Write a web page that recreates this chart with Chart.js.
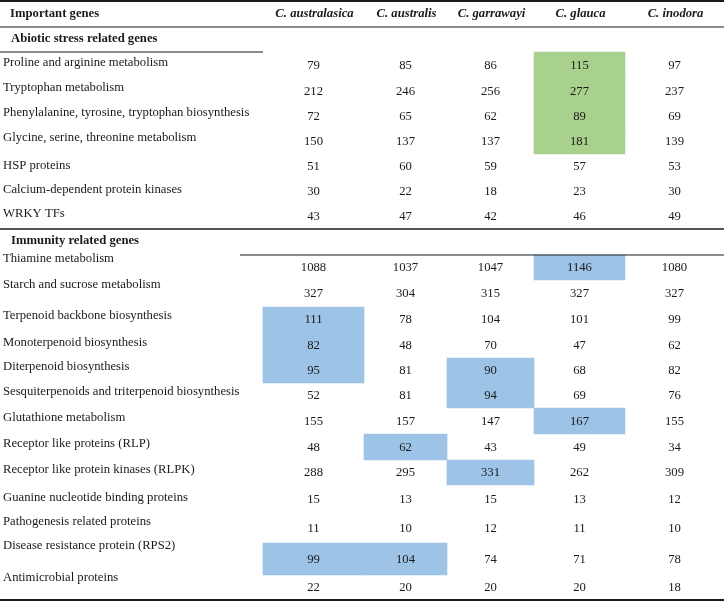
<!DOCTYPE html>
<html><head><meta charset="utf-8">
<script src="https://cdn.jsdelivr.net/npm/chart.js@4.4.1/dist/chart.umd.min.js"></script>
<style>html,body{margin:0;padding:0;background:#fff;}#wrap{width:724px;height:602px;position:relative;}</style>
</head><body><div id="wrap"><canvas id="c" width="724" height="602"></canvas></div>
<script>
// ---------- DATA ----------
const headerTitle = "Important genes";
const species = ["C. australasica", "C. australis", "C. garrawayi", "C. glauca", "C. inodora"];
const sectionTitles = ["Abiotic stress related genes", "Immunity related genes"];
const abioticGenes = [
  "Proline and arginine metabolism",
  "Tryptophan metabolism",
  "Phenylalanine, tyrosine, tryptophan biosynthesis",
  "Glycine, serine, threonine metabolism",
  "HSP proteins",
  "Calcium-dependent protein kinases",
  "WRKY TFs"
];
const immunityGenes = [
  "Thiamine metabolism",
  "Starch and sucrose metabolism",
  "Terpenoid backbone biosynthesis",
  "Monoterpenoid biosynthesis",
  "Diterpenoid biosynthesis",
  "Sesquiterpenoids and triterpenoid biosynthesis",
  "Glutathione metabolism",
  "Receptor like proteins (RLP)",
  "Receptor like protein kinases (RLPK)",
  "Guanine nucleotide binding proteins",
  "Pathogenesis related proteins",
  "Disease resistance protein (RPS2)",
  "Antimicrobial proteins"
];
// values: 7 abiotic genes followed by 13 immunity genes
const australasica = [79, 212, 72, 150, 51, 30, 43, 1088, 327, 111, 82, 95, 52, 155, 48, 288, 15, 11, 99, 22];
const australis    = [85, 246, 65, 137, 60, 22, 47, 1037, 304, 78, 48, 81, 81, 157, 62, 295, 13, 10, 104, 20];
const garrawayi    = [86, 256, 62, 137, 59, 18, 42, 1047, 315, 104, 70, 90, 94, 147, 43, 331, 15, 12, 74, 20];
const glauca       = [115, 277, 89, 181, 57, 23, 46, 1146, 327, 101, 47, 68, 69, 167, 49, 262, 13, 11, 71, 20];
const inodora      = [97, 237, 69, 139, 53, 30, 49, 1080, 327, 99, 62, 82, 76, 155, 34, 309, 12, 10, 78, 18];
// highlighted cells: [gene index, species index]
const greenCells = [[0, 3], [1, 3], [2, 3], [3, 3]];
const blueCells  = [[7, 3], [9, 0], [10, 0], [11, 0], [11, 2], [12, 2], [13, 3], [14, 1], [15, 2], [18, 0], [18, 1]];

// ---------- LAYOUT (styling) ----------
const W = 724, H = 602;
const COL_EDGES = [0, 263, 364, 447, 534, 625, 724];           // label column + 5 species columns
const TABLE_TOP = 1;
const HEADER_H = 26, SECTION_H = [25, 26];
const ABIOTIC_ROW_H = [26, 26, 25, 25, 25, 25, 25];
const IMMUNITY_ROW_H = [25, 27, 25, 26, 25, 25, 26, 26, 25, 28, 30, 32, 25];
// vertical shift of each row's gene label relative to its numbers (labels sit higher)
const LABEL_SHIFT = [-3, -4, -4, -4, -1, -2, -3, -9, -9, -4, -3, -4, -4, -4, -4, -3, -2, -7, -14, -10];
const GREEN = "#a9d18e", BLUE = "#9dc3e6", INK = "#1a1a1a";
const FONT = "'Liberation Serif', 'Times New Roman', serif";

const valuesBySpecies = [australasica, australis, garrawayi, glauca, inodora];

// build row geometry in layout units
const rows = [];
let yCur = TABLE_TOP;
rows.push({kind: "header", top: yCur, bottom: yCur + HEADER_H}); yCur += HEADER_H;
rows.push({kind: "section", text: sectionTitles[0], top: yCur, bottom: yCur + SECTION_H[0]}); yCur += SECTION_H[0];
abioticGenes.forEach((g, i) => { rows.push({kind: "gene", text: g, gi: i, top: yCur, bottom: yCur + ABIOTIC_ROW_H[i]}); yCur += ABIOTIC_ROW_H[i]; });
rows.push({kind: "section", text: sectionTitles[1], top: yCur, bottom: yCur + SECTION_H[1]}); yCur += SECTION_H[1];
immunityGenes.forEach((g, i) => { rows.push({kind: "gene", text: g, gi: abioticGenes.length + i, top: yCur, bottom: yCur + IMMUNITY_ROW_H[i]}); yCur += IMMUNITY_ROW_H[i]; });
const TABLE_BOTTOM = yCur;
const geneRow = {}; rows.forEach(r => { if (r.kind === "gene") geneRow[r.gi] = r; });
const sectionRows = rows.filter(r => r.kind === "section");
const colCenter = s => (COL_EDGES[s + 1] + COL_EDGES[s + 2]) / 2;

// highlight datasets: one per species column that has highlighted cells
const highlightDatasets = [];
for (let s = 0; s < species.length; s++) {
  const pts = [], cols = [];
  greenCells.filter(c => c[1] === s).forEach(c => { const r = geneRow[c[0]]; pts.push({x: colCenter(s), y: [r.top, r.bottom], v: valuesBySpecies[s][c[0]]}); cols.push(GREEN); });
  blueCells.filter(c => c[1] === s).forEach(c => { const r = geneRow[c[0]]; pts.push({x: colCenter(s), y: [r.top, r.bottom], v: valuesBySpecies[s][c[0]]}); cols.push(BLUE); });
  if (!pts.length) continue;
  highlightDatasets.push({
    label: species[s], data: pts, backgroundColor: cols, borderWidth: 0,
    barThickness: COL_EDGES[s + 2] - COL_EDGES[s + 1], stack: "cells", grouped: true
  });
}

// ---------- TABLE TEXT + RULES PLUGIN ----------
const tablePlugin = {
  id: "tableText",
  afterDatasetsDraw(chart) {
    const ctx = chart.ctx, xs = chart.scales.x, ys = chart.scales.y;
    const X = v => xs.getPixelForValue(v), Y = v => ys.getPixelForValue(v);
    ctx.save();
    ctx.fillStyle = INK; ctx.strokeStyle = INK;
    const rule = (y, x0, x1, lw) => { ctx.lineWidth = lw; ctx.beginPath(); ctx.moveTo(X(x0), Y(y)); ctx.lineTo(X(x1), Y(y)); ctx.stroke(); };
    rule(TABLE_TOP, 0, W, 2);
    rule(rows[0].bottom, 0, W, 1.2);
    rule(sectionRows[0].bottom, 0, COL_EDGES[1], 1.2);
    rule(sectionRows[1].top, 0, W, 1.6);
    rule(sectionRows[1].bottom, 240, W, 1.2);
    rule(TABLE_BOTTOM, 0, W, 2);
    ctx.textBaseline = "middle";
    const hy = Y((rows[0].top + rows[0].bottom) / 2);
    ctx.font = "bold 12.7px " + FONT; ctx.textAlign = "left";
    ctx.fillText(headerTitle, X(10), hy);
    ctx.font = "italic bold 12.7px " + FONT; ctx.textAlign = "center";
    species.forEach((s, i) => ctx.fillText(s, X(colCenter(i) + 1), hy));
    ctx.font = "bold 12.7px " + FONT; ctx.textAlign = "left";
    sectionRows.forEach(r => ctx.fillText(r.text, X(11), Y((r.top + r.bottom) / 2 - 1)));
    rows.filter(r => r.kind === "gene").forEach(r => {
      const vy = (r.top + r.bottom) / 2 + 0.5;
      ctx.font = "12.7px " + FONT; ctx.textAlign = "left";
      ctx.fillText(r.text, X(3), Y(vy + LABEL_SHIFT[r.gi]));
      ctx.textAlign = "center";
      valuesBySpecies.forEach((arr, s) => ctx.fillText(String(arr[r.gi]), X(colCenter(s)), Y(vy)));
    });
    ctx.restore();
  }
};

new Chart(document.getElementById("c"), {
  type: "bar",
  data: { datasets: highlightDatasets },
  options: {
    responsive: false, animation: false, devicePixelRatio: 1,
    layout: { padding: 0 },
    plugins: { legend: { display: false }, tooltip: { enabled: false } },
    scales: {
      x: { type: "linear", min: 0, max: W, display: false, stacked: true, offset: false, bounds: "ticks" },
      y: { type: "linear", min: 0, max: H, reverse: true, display: false, stacked: false }
    }
  },
  plugins: [tablePlugin]
});
</script></body></html>
